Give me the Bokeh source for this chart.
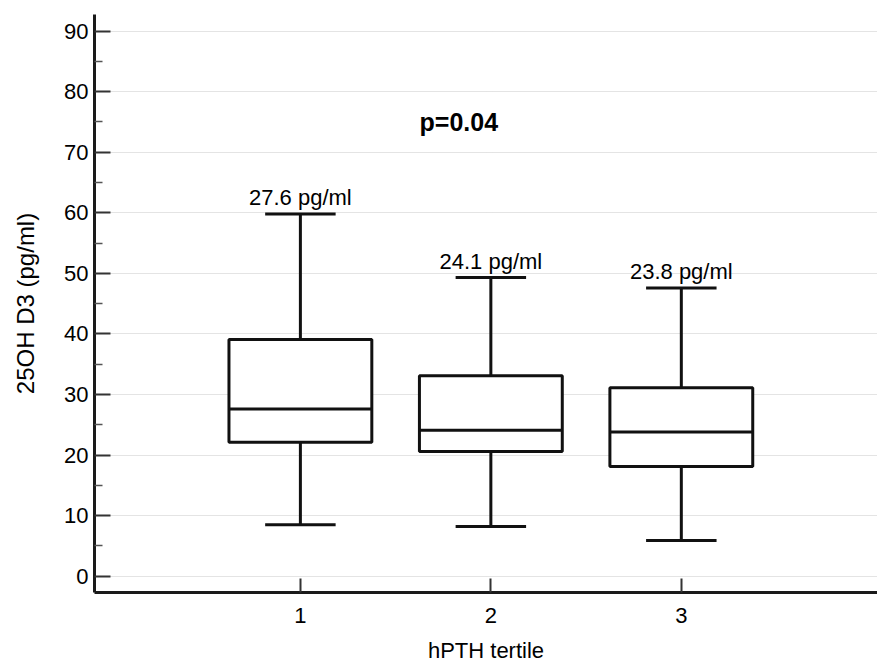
from bokeh.plotting import figure
from bokeh.models import Range1d, FixedTicker, Label
from bokeh.embed import file_html
from bokeh.resources import INLINE
from bokeh.core.properties import value

groups = [1, 2, 3]
tick_labels = {1: "1", 2: "2", 3: "3"}
whisker_low = [8.5, 8.2, 5.9]
q1 = [22.1, 20.6, 18.1]
median = [27.6, 24.1, 23.8]
q3 = [39.1, 33.1, 31.1]
whisker_high = [59.8, 49.3, 47.6]
median_labels = ["27.6 pg/ml", "24.1 pg/ml", "23.8 pg/ml"]
p_text = "p=0.04"

FONT = "Liberation Sans"
box_w = 0.75
cap_w = 0.37

p = figure(width=877, height=665, output_backend="svg", toolbar_location=None,
           x_range=Range1d(-0.081, 4.03), y_range=Range1d(-2.7, 92.75),
           min_border_left=94, min_border_top=14, min_border_bottom=72, min_border_right=0)
p.outline_line_color = None
p.background_fill_color = "white"

# grid
p.xgrid.grid_line_color = None
p.ygrid.grid_line_color = "#c8c8c8"
p.ygrid.grid_line_dash = "1 1"
p.ygrid.grid_line_width = 1
p.ygrid.ticker = FixedTicker(ticks=list(range(0, 100, 10)))

# y axis
p.yaxis.ticker = FixedTicker(ticks=list(range(0, 100, 10)), minor_ticks=list(range(5, 95, 10)))
p.yaxis.axis_line_width = 3
p.yaxis.axis_line_color = "#1a1a1a"
p.yaxis.major_tick_in = 16
p.yaxis.major_tick_out = 0
p.yaxis.major_tick_line_width = 2
p.yaxis.major_tick_line_color = "#333333"
p.yaxis.minor_tick_in = 8
p.yaxis.minor_tick_out = 0
p.yaxis.minor_tick_line_width = 1.5
p.yaxis.minor_tick_line_color = "#555555"
p.yaxis.major_label_text_font = FONT
p.yaxis.major_label_text_font_size = "22px"
p.yaxis.major_label_text_color = "black"
p.yaxis.major_label_standoff = 6
p.yaxis.axis_label = "25OH D3 (pg/ml)"
p.yaxis.axis_label_text_font = FONT
p.yaxis.axis_label_text_font_size = "24px"
p.yaxis.axis_label_text_font_style = "normal"
p.yaxis.axis_label_text_color = "black"
p.yaxis.axis_label_standoff = 22

# x axis
p.xaxis.ticker = FixedTicker(ticks=groups)
p.xaxis.major_label_overrides = tick_labels
p.xaxis.axis_line_width = 3
p.xaxis.axis_line_color = "#1a1a1a"
p.xaxis.major_tick_in = 14
p.xaxis.major_tick_out = 0
p.xaxis.major_tick_line_width = 2
p.xaxis.major_tick_line_color = "#333333"
p.xaxis.minor_tick_line_color = None
p.xaxis.major_label_text_font = FONT
p.xaxis.major_label_text_font_size = "22px"
p.xaxis.major_label_text_color = "black"
p.xaxis.major_label_standoff = 15
p.xaxis.axis_label = "hPTH tertile"
p.xaxis.axis_label_text_font = FONT
p.xaxis.axis_label_text_font_size = "22px"
p.xaxis.axis_label_text_font_style = "normal"
p.xaxis.axis_label_text_color = "black"
p.xaxis.axis_label_standoff = 12

lw = 3
col = "#111111"
# whiskers
p.segment(x0=groups, y0=q3, x1=groups, y1=whisker_high, line_color=col, line_width=lw)
p.segment(x0=groups, y0=whisker_low, x1=groups, y1=q1, line_color=col, line_width=lw)
# caps
p.segment(x0=[g - cap_w / 2 for g in groups], y0=whisker_high,
          x1=[g + cap_w / 2 for g in groups], y1=whisker_high, line_color=col, line_width=lw)
p.segment(x0=[g - cap_w / 2 for g in groups], y0=whisker_low,
          x1=[g + cap_w / 2 for g in groups], y1=whisker_low, line_color=col, line_width=lw)
# boxes
p.vbar(x=groups, width=box_w, bottom=q1, top=q3, fill_color="white",
       line_color=col, line_width=lw)
# medians
p.segment(x0=[g - box_w / 2 for g in groups], y0=median,
          x1=[g + box_w / 2 for g in groups], y1=median, line_color=col, line_width=lw)

# median labels above top caps
p.text(x=groups, y=whisker_high, text=median_labels, text_align="center",
       text_baseline="bottom", y_offset=-4, text_font=value(FONT),
       text_font_size="22px", text_color="black")

p.add_layout(Label(x=1.832, y=75, text=p_text, text_align="center", text_baseline="middle",
                   text_font=FONT, text_font_size="25px",
                   text_font_style="bold", text_color="black"))

open("out.html", "w").write(file_html(p, INLINE))
